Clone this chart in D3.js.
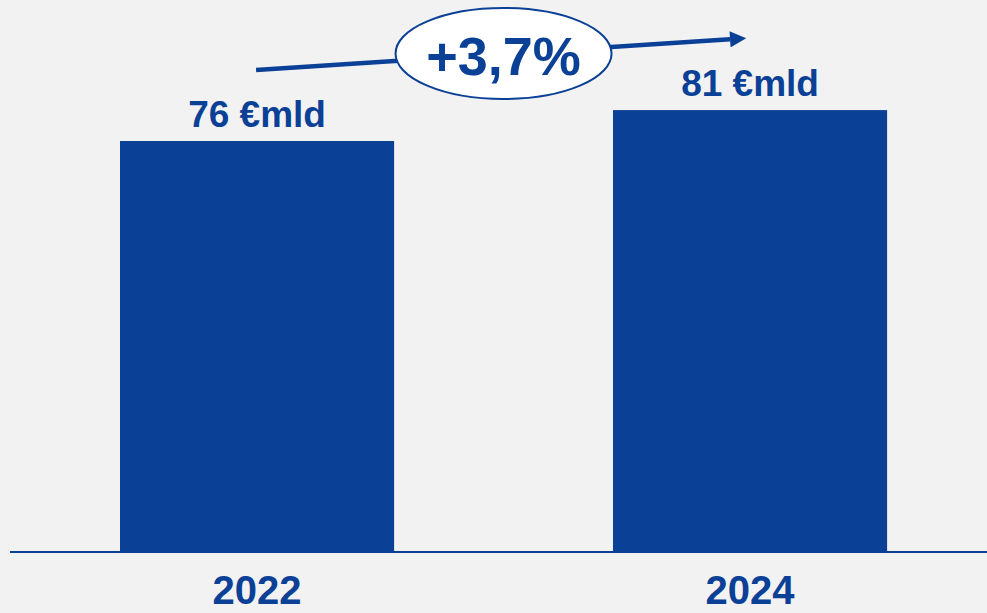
<!DOCTYPE html>
<html><head><meta charset="utf-8">
<script src="https://cdn.jsdelivr.net/npm/d3@7"></script>
<style>html,body{margin:0;padding:0;background:#f2f2f2;overflow:hidden}</style>
</head><body>
<svg id="c" width="987" height="613"></svg>
<script>
const years = ["2022", "2024"];
const values = [75.6, 81.3];
const valueLabels = ["76 €mld", "81 €mld"];
const growthLabel = "+3,7%";

const W = 987, H = 613;
const blue = "#0b4097";
const font = "'Liberation Sans', Arial, sans-serif";
const svg = d3.select("#c");
svg.append("rect").attr("width", W).attr("height", H).attr("fill", "#f2f2f2");

const x = d3.scaleBand().domain(years).range([21.4, 985.7]).paddingInner(0.444).paddingOuter(0.2);
const y = d3.scaleLinear().domain([0, 101.6]).range([551, 0]);

svg.selectAll("rect.bar").data(values).join("rect").attr("class", "bar")
  .attr("x", (d, i) => x(years[i])).attr("width", x.bandwidth())
  .attr("y", d => y(d)).attr("height", d => y(0) - y(d)).attr("fill", blue);

// baseline
svg.append("line").attr("x1", 10).attr("x2", W).attr("y1", y(0) + 1).attr("y2", y(0) + 1)
  .attr("stroke", blue).attr("stroke-width", 2);

// value labels
svg.selectAll("text.val").data(values).join("text").attr("class", "val")
  .attr("x", (d, i) => x(years[i]) + x.bandwidth() / 2).attr("y", d => y(d) - 14)
  .attr("text-anchor", "middle").attr("font-family", font).attr("font-weight", "bold")
  .attr("font-size", 37).attr("fill", blue).text((d, i) => valueLabels[i]);

// year labels
svg.selectAll("text.yr").data(years).join("text").attr("class", "yr")
  .attr("x", d => x(d) + x.bandwidth() / 2).attr("y", 604)
  .attr("text-anchor", "middle").attr("font-family", font).attr("font-weight", "bold")
  .attr("font-size", 40).attr("fill", blue).text(d => d);

// growth arrow
const defs = svg.append("defs");
defs.append("marker").attr("id", "ah").attr("viewBox", "0 0 10 10").attr("refX", 0).attr("refY", 5)
  .attr("markerWidth", 4).attr("markerHeight", 3.6).attr("orient", "auto").attr("markerUnits", "strokeWidth")
  .append("path").attr("d", "M0,0 L10,5 L0,10 Z").attr("fill", blue);

const c0 = x(years[0]) + x.bandwidth() / 2, c1 = x(years[1]) + x.bandwidth() / 2;
svg.append("line").attr("x1", c0 - 1).attr("y1", 70).attr("x2", c1 - 20).attr("y2", 39.3)
  .attr("stroke", blue).attr("stroke-width", 4.5).attr("marker-end", "url(#ah)");

const ex = (c0 + c1) / 2;
svg.append("ellipse").attr("cx", ex).attr("cy", 53.5).attr("rx", 108).attr("ry", 45.5)
  .attr("fill", "#fff").attr("stroke", blue).attr("stroke-width", 2);
svg.append("text").attr("x", ex).attr("y", 75).attr("text-anchor", "middle")
  .attr("font-family", font).attr("font-weight", "bold").attr("font-size", 54).attr("fill", blue)
  .text(growthLabel);
</script>
</body></html>
